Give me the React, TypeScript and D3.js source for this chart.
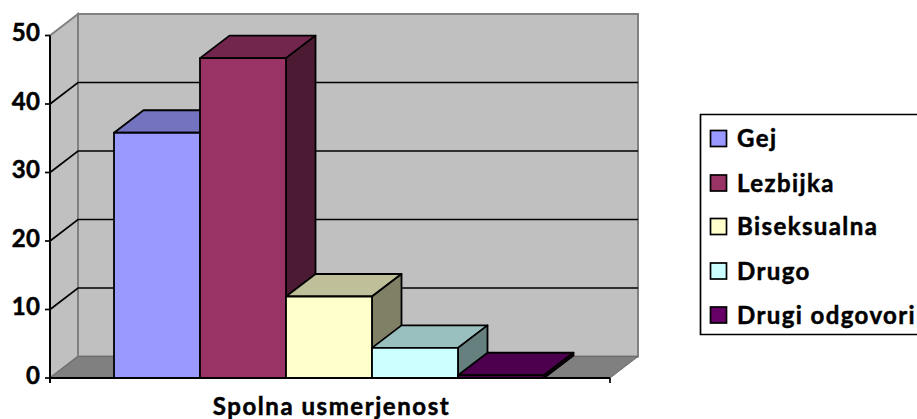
import React from "react";
import * as d3 from "d3";

const categories = ["Gej", "Lezbijka", "Biseksualna", "Drugo", "Drugi odgovori"];
const values = [35.8, 46.7, 11.9, 4.4, 0.4];
const frontColors = ["#9999FF", "#993366", "#FFFFCC", "#CCFFFF", "#660066"];
const yTicks = [0, 10, 20, 30, 40, 50];
const axisTitle = "Spolna usmerjenost";
const legendRowY = [138.5, 183, 226.5, 271, 315];

const W = 917, H = 419;
const FONT = "Lato, 'Open Sans', sans-serif";
const y = d3.scaleLinear().domain([0, 50]).range([378, 35.5]);
const x = d3.scaleLinear().domain([0, 1]).range([50, 610]);
const band = d3.scaleBand<string>().domain(categories).range([114, 544]).padding(0);
const dx = 28, dy = 21.5;
const bdx = 29.5, bdy = 22.5;
const bold = { stroke: "#000", strokeWidth: 0.5, fill: "#000", fontWeight: 700, fontSize: 24 };

const poly = (pts: [number, number][]) => d3.line()(pts)! + "Z";

export default function App() {
  const x0 = x(0), x1 = x(1), y0 = y(0), yT = y(50);
  return (
    <svg width={W} height={H} style={{ position: "absolute", left: 0, top: 0, display: "block" }} fontFamily={FONT}>
      <rect width={W} height={H} fill="#fff" />
      <path d={poly([[x0 + dx, yT - dy], [x1 + dx, yT - dy], [x1 + dx, y0 - dy], [x0 + dx, y0 - dy]])} fill="#C0C0C0" stroke="#808080" strokeWidth={2} />
      <path d={poly([[x0, yT], [x0 + dx, yT - dy], [x0 + dx, y0 - dy], [x0, y0]])} fill="#C0C0C0" stroke="#808080" strokeWidth={2} />
      <path d={poly([[x0, y0], [x0 + dx, y0 - dy], [x1 + dx, y0 - dy], [x1, y0]])} fill="#808080" stroke="#6a6a6a" strokeWidth={1} />
      {yTicks.filter(t => t > 0 && t < 50).map(t => (
        <path key={t} d={`M${x0},${y(t)}L${x0 + dx},${y(t) - dy}L${x1 + dx},${y(t) - dy}`} fill="none" stroke="#000" strokeWidth={1.7} />
      ))}
      {categories.map((c, i) => {
        const l = band(c)!, r = l + band.bandwidth(), t = y(values[i]);
        const col = d3.rgb(frontColors[i]);
        const top = d3.rgb(col.r * 0.75, col.g * 0.75, col.b * 0.75).formatHex();
        const side = d3.rgb(col.r * 0.5, col.g * 0.5, col.b * 0.5).formatHex();
        return (
          <g key={c} stroke="#000" strokeWidth={1.8} strokeLinejoin="round">
            <path d={poly([[l, t], [l + bdx, t - bdy], [r + bdx, t - bdy], [r, t]])} fill={top} />
            <path d={poly([[r, t], [r + bdx, t - bdy], [r + bdx, y0 - bdy], [r, y0]])} fill={side} />
            <rect x={l} y={t} width={r - l} height={y0 - t} fill={col.formatHex()} />
          </g>
        );
      })}
      <line x1={x0} x2={x0} y1={yT} y2={y0 + 5} stroke="#000" strokeWidth={2} />
      <line x1={x0} x2={x1} y1={y0} y2={y0} stroke="#000" strokeWidth={2} />
      <line x1={x1} x2={x1} y1={y0} y2={y0 + 5} stroke="#000" strokeWidth={1.7} />
      {yTicks.map(t => (
        <g key={t}>
          <line x1={x0 - 5} x2={x0} y1={y(t)} y2={y(t)} stroke="#000" strokeWidth={1.7} />
          <text x={40.5} y={y(t) + 5.5} textAnchor="end" letterSpacing={0.5} {...bold}>{t}</text>
        </g>
      ))}
      <text x={331.5} y={415} textAnchor="middle" letterSpacing={1.55} {...bold}>{axisTitle}</text>
      <path d={`M917,114.5H700.5V334.5H917`} fill="#fff" stroke="#000" strokeWidth={1.7} />
      {categories.map((c, i) => (
        <g key={c}>
          <rect x={710.5} y={legendRowY[i] - 8} width={16} height={16} fill={frontColors[i]} stroke="#000" strokeWidth={1.7} />
          <text x={737} y={legendRowY[i] + 8.5} letterSpacing={1.4} {...bold}>{c}</text>
        </g>
      ))}
    </svg>
  );
}
